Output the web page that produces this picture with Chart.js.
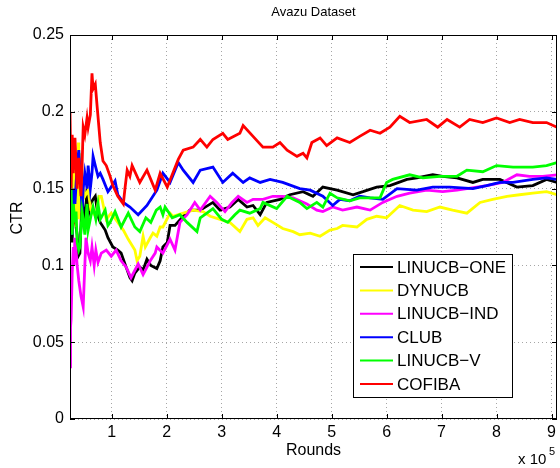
<!DOCTYPE html>
<html lang="en">
<head>
<meta charset="UTF-8">
<title>Avazu Dataset</title>
<script src="https://cdn.jsdelivr.net/npm/chart.js"></script>
<style>
    html, body { margin: 0; padding: 0; background: #fff; }
    #wrap { width: 560px; height: 468px; }
</style>
</head>
<body>
<div id="wrap"><canvas id="ctr-chart" width="560" height="468"></canvas></div>

<script>
// rounds are in units of 1e5, as on the x axis
const seriesNames = ['LINUCB\u2212ONE', 'DYNUCB', 'LINUCB\u2212IND', 'CLUB', 'LINUCB\u2212V', 'COFIBA'];
const seriesColors = ['#000000', '#ffff00', '#ff00ff', '#0000ff', '#00ff00', '#ff0000'];
const xTicks = [1, 2, 3, 4, 5, 6, 7, 8, 9];
const yTicks = [0, 0.05, 0.1, 0.15, 0.2, 0.25];

const oneRounds = [0.24,0.26,0.28,0.30,0.33,0.37,0.39,0.42,0.46,0.48,0.51,0.55,0.57,0.61,0.66,0.70,0.75,0.79,0.88,0.93,1.02,1.11,1.17,1.24,1.33,1.37,1.42,1.51,1.57,1.64,1.71,1.82,1.88,1.93,2.01,2.06,2.15,2.30,2.42,2.61,2.84,2.97,3.15,3.30,3.46,3.57,3.70,3.82,4.06,4.24,4.48,4.66,4.84,5.10,5.39,5.57,5.82,6.06,6.37,6.55,6.84,7.02,7.28,7.57,7.75,8.06,8.37,8.66,8.91,9.10];
const oneCtr = [0.140,0.125,0.115,0.143,0.130,0.120,0.106,0.108,0.145,0.136,0.128,0.150,0.132,0.140,0.143,0.145,0.132,0.128,0.123,0.118,0.112,0.110,0.108,0.101,0.092,0.090,0.095,0.099,0.097,0.104,0.100,0.098,0.103,0.112,0.115,0.126,0.126,0.132,0.136,0.136,0.141,0.136,0.138,0.143,0.138,0.139,0.133,0.141,0.143,0.146,0.148,0.145,0.151,0.149,0.146,0.148,0.151,0.152,0.156,0.157,0.159,0.158,0.157,0.154,0.156,0.156,0.151,0.152,0.156,0.154];

const dynRounds = [0.24,0.26,0.28,0.30,0.33,0.35,0.39,0.40,0.44,0.48,0.51,0.57,0.62,0.71,0.77,0.81,0.90,0.99,1.11,1.21,1.30,1.42,1.46,1.51,1.57,1.61,1.70,1.75,1.82,1.88,1.93,2.06,2.11,2.30,2.48,2.66,2.79,2.97,3.15,3.33,3.46,3.57,3.66,3.79,3.93,4.11,4.30,4.42,4.61,4.79,4.97,5.10,5.20,5.46,5.64,5.82,6.00,6.24,6.48,6.73,6.97,7.20,7.46,7.70,7.93,8.19,8.42,8.66,8.91,9.10];
const dynCtr = [0.140,0.170,0.150,0.165,0.158,0.125,0.180,0.130,0.173,0.150,0.145,0.149,0.136,0.132,0.145,0.145,0.130,0.134,0.128,0.123,0.117,0.110,0.103,0.106,0.119,0.112,0.118,0.121,0.119,0.125,0.125,0.134,0.132,0.134,0.136,0.135,0.132,0.130,0.128,0.122,0.130,0.131,0.126,0.131,0.128,0.124,0.122,0.120,0.121,0.119,0.123,0.124,0.126,0.125,0.130,0.132,0.131,0.139,0.136,0.135,0.138,0.136,0.134,0.141,0.143,0.145,0.146,0.147,0.148,0.146];

const indRounds = [0.24,0.25,0.26,0.28,0.30,0.31,0.33,0.35,0.37,0.40,0.44,0.48,0.51,0.53,0.57,0.61,0.64,0.68,0.71,0.75,0.81,0.90,0.99,1.08,1.17,1.26,1.35,1.48,1.57,1.70,1.79,1.82,1.93,2.06,2.15,2.24,2.37,2.51,2.61,2.79,2.91,3.06,3.19,3.30,3.46,3.57,3.75,3.93,4.11,4.30,4.55,4.73,4.84,5.02,5.20,5.46,5.70,5.93,6.19,6.42,6.73,7.02,7.28,7.64,7.82,8.11,8.37,8.60,8.84,9.10];
const indCtr = [0.034,0.060,0.065,0.095,0.112,0.100,0.118,0.110,0.100,0.090,0.080,0.073,0.100,0.118,0.108,0.103,0.112,0.100,0.110,0.102,0.108,0.110,0.106,0.110,0.103,0.099,0.092,0.101,0.094,0.103,0.108,0.112,0.108,0.117,0.110,0.128,0.133,0.141,0.136,0.145,0.141,0.135,0.141,0.145,0.141,0.143,0.143,0.145,0.145,0.144,0.140,0.136,0.135,0.138,0.136,0.138,0.136,0.141,0.145,0.147,0.149,0.148,0.149,0.151,0.152,0.154,0.159,0.158,0.158,0.159];

const clubRounds = [0.24,0.26,0.28,0.30,0.33,0.37,0.40,0.44,0.46,0.48,0.51,0.55,0.57,0.61,0.64,0.66,0.70,0.75,0.79,0.84,0.93,0.97,1.06,1.11,1.21,1.33,1.48,1.64,1.82,1.93,2.06,2.21,2.30,2.48,2.61,2.84,3.02,3.20,3.39,3.51,3.70,3.88,4.11,4.42,4.61,4.84,5.02,5.15,5.33,5.51,5.70,5.93,6.19,6.55,6.84,7.15,7.57,7.82,8.06,8.30,8.66,8.91,9.10];
const clubCtr = [0.145,0.130,0.120,0.150,0.140,0.165,0.175,0.150,0.135,0.150,0.160,0.150,0.165,0.150,0.160,0.171,0.165,0.158,0.160,0.156,0.148,0.150,0.155,0.146,0.141,0.138,0.133,0.139,0.149,0.160,0.154,0.167,0.162,0.154,0.162,0.164,0.154,0.160,0.154,0.157,0.154,0.156,0.154,0.150,0.149,0.145,0.139,0.143,0.142,0.145,0.144,0.143,0.150,0.149,0.151,0.151,0.150,0.152,0.154,0.154,0.156,0.157,0.156];

const vRounds = [0.24,0.26,0.28,0.30,0.33,0.35,0.37,0.40,0.42,0.46,0.48,0.51,0.55,0.57,0.62,0.66,0.71,0.75,0.79,0.88,0.93,0.97,1.06,1.17,1.30,1.42,1.51,1.62,1.71,1.81,1.88,1.93,1.97,2.10,2.24,2.37,2.55,2.61,2.73,2.84,3.00,3.11,3.24,3.33,3.51,3.70,3.75,4.00,4.19,4.42,4.55,4.73,4.84,4.97,5.10,5.33,5.51,5.88,6.00,6.11,6.42,6.66,6.97,7.28,7.46,7.75,8.00,8.30,8.66,8.91,9.10];
const vCtr = [0.180,0.150,0.120,0.140,0.128,0.135,0.115,0.110,0.112,0.135,0.130,0.120,0.140,0.123,0.132,0.138,0.130,0.140,0.130,0.136,0.126,0.128,0.135,0.125,0.134,0.125,0.122,0.131,0.128,0.136,0.138,0.133,0.138,0.131,0.133,0.128,0.122,0.131,0.134,0.137,0.130,0.128,0.133,0.136,0.134,0.137,0.141,0.137,0.145,0.141,0.137,0.141,0.138,0.147,0.144,0.142,0.144,0.144,0.154,0.156,0.159,0.157,0.158,0.158,0.162,0.161,0.165,0.164,0.164,0.165,0.167];

const cofibaRounds = [0.24,0.26,0.28,0.30,0.33,0.37,0.40,0.44,0.46,0.48,0.51,0.55,0.57,0.61,0.64,0.66,0.70,0.73,0.79,0.84,0.90,0.97,1.02,1.11,1.21,1.24,1.28,1.33,1.37,1.51,1.64,1.79,1.88,2.01,2.11,2.21,2.30,2.48,2.61,2.73,2.84,3.02,3.11,3.33,3.39,3.57,3.75,3.93,4.06,4.19,4.37,4.48,4.55,4.64,4.79,4.91,5.10,5.33,5.51,5.70,5.88,6.06,6.24,6.42,6.73,6.93,7.10,7.33,7.51,7.75,8.00,8.24,8.42,8.66,8.91,9.10];
const cofibaCtr = [0.200,0.150,0.185,0.160,0.183,0.150,0.170,0.145,0.165,0.190,0.185,0.196,0.190,0.198,0.225,0.215,0.218,0.205,0.180,0.168,0.165,0.158,0.152,0.145,0.140,0.150,0.162,0.158,0.165,0.154,0.162,0.149,0.160,0.151,0.160,0.169,0.175,0.177,0.182,0.177,0.182,0.186,0.182,0.186,0.191,0.184,0.177,0.177,0.180,0.175,0.171,0.173,0.170,0.180,0.183,0.178,0.183,0.180,0.184,0.188,0.186,0.190,0.197,0.193,0.195,0.190,0.195,0.190,0.195,0.193,0.196,0.193,0.195,0.193,0.193,0.190];

const allRounds = [oneRounds, dynRounds, indRounds, clubRounds, vRounds, cofibaRounds];
const allCtr = [oneCtr, dynCtr, indCtr, clubCtr, vCtr, cofibaCtr];

const FONT = '"Liberation Sans", Arial, Helvetica, sans-serif';

// MATLAB-like box, inward ticks, texts and legend
const matlabFrame = {
    id: 'matlabFrame',
    afterDatasetsDraw(chart) {
        const { ctx, chartArea: a, scales } = chart;
        const x = scales.x, y = scales.y;
        ctx.save();

        // legend box
        const lx = 353, ly = 254, lw = 160, lh = 144;
        ctx.fillStyle = '#fff';
        ctx.fillRect(lx, ly, lw, lh);
        ctx.strokeStyle = '#000';
        ctx.lineWidth = 1;
        ctx.strokeRect(lx + 0.5, ly + 0.5, lw - 1, lh - 1);
        ctx.font = '17px ' + FONT;
        ctx.textBaseline = 'middle';
        ctx.textAlign = 'left';
        chart.data.datasets.forEach((ds, i) => {
            const rowY = 267 + i * 23.4;
            ctx.strokeStyle = ds.borderColor;
            ctx.lineWidth = 2;
            ctx.beginPath();
            ctx.moveTo(360, rowY);
            ctx.lineTo(393, rowY);
            ctx.stroke();
            ctx.fillStyle = '#000';
            ctx.fillText(ds.label, 397, rowY + 1);
        });

        // axes box
        ctx.strokeStyle = '#000';
        ctx.lineWidth = 1;
        ctx.strokeRect(a.left + 0.5, a.top + 0.5, a.right - a.left - 1, a.bottom - a.top - 1);

        // inward tick marks on all four sides
        ctx.beginPath();
        xTicks.forEach(v => {
            const px = Math.round(x.getPixelForValue(v)) + 0.5;
            ctx.moveTo(px, a.bottom); ctx.lineTo(px, a.bottom - 5);
            ctx.moveTo(px, a.top); ctx.lineTo(px, a.top + 5);
        });
        yTicks.forEach(v => {
            const py = Math.round(y.getPixelForValue(v)) + 0.5;
            ctx.moveTo(a.left, py); ctx.lineTo(a.left + 5, py);
            ctx.moveTo(a.right, py); ctx.lineTo(a.right - 5, py);
        });
        ctx.stroke();

        // title and axis labels
        ctx.fillStyle = '#000';
        ctx.textAlign = 'center';
        ctx.textBaseline = 'middle';
        ctx.font = '13px ' + FONT;
        ctx.fillText('Avazu Dataset', (a.left + a.right) / 2, 12);
        ctx.font = '16px ' + FONT;
        ctx.fillText('Rounds', (a.left + a.right) / 2, 451);
        ctx.save();
        ctx.translate(18, 218);
        ctx.rotate(-Math.PI / 2);
        ctx.fillText('CTR', 0, 0);
        ctx.restore();

        // exponent label
        ctx.textAlign = 'left';
        ctx.textBaseline = 'alphabetic';
        ctx.font = '15px ' + FONT;
        ctx.fillText('x 10', 518, 464);
        ctx.font = '11px ' + FONT;
        ctx.fillText('5', 549, 455);

        ctx.restore();
    }
};

const datasets = seriesNames.map((name, i) => ({
    label: name,
    data: allRounds[i].map((r, j) => ({ x: r, y: allCtr[i][j] })),
    borderColor: seriesColors[i],
    backgroundColor: seriesColors[i],
    borderWidth: 2.8,
    pointRadius: 0,
    tension: 0,
    fill: false,
    order: seriesNames.length - i
}));

new Chart(document.getElementById('ctr-chart'), {
    type: 'line',
    data: { datasets: datasets },
    options: {
        responsive: false,
        animation: false,
        devicePixelRatio: 1,
        layout: { padding: { top: 35, right: 3, left: 0, bottom: 0 } },
        plugins: {
            legend: { display: false },
            title: { display: false },
            tooltip: { enabled: false }
        },
        scales: {
            x: {
                type: 'linear',
                min: 0.24,
                max: 9.1,
                afterFit: s => { s.height = 49; },
                afterBuildTicks: s => { s.ticks = xTicks.map(v => ({ value: v })); },
                ticks: {
                    callback: v => String(v),
                    color: '#000',
                    padding: 4,
                    font: { family: FONT, size: 16 }
                },
                grid: { color: 'rgba(0,0,0,0.35)', lineWidth: 1, drawTicks: false },
                border: { display: false, dash: [1, 3] }
            },
            y: {
                min: 0,
                max: 0.25,
                afterFit: s => { s.width = 70; },
                afterBuildTicks: s => { s.ticks = yTicks.map(v => ({ value: v })); },
                ticks: {
                    callback: v => String(+v.toFixed(2)),
                    color: '#000',
                    padding: 6,
                    font: { family: FONT, size: 16 }
                },
                grid: { color: 'rgba(0,0,0,0.35)', lineWidth: 1, drawTicks: false },
                border: { display: false, dash: [1, 3] }
            }
        }
    },
    plugins: [matlabFrame]
});
</script>
</body>
</html>
